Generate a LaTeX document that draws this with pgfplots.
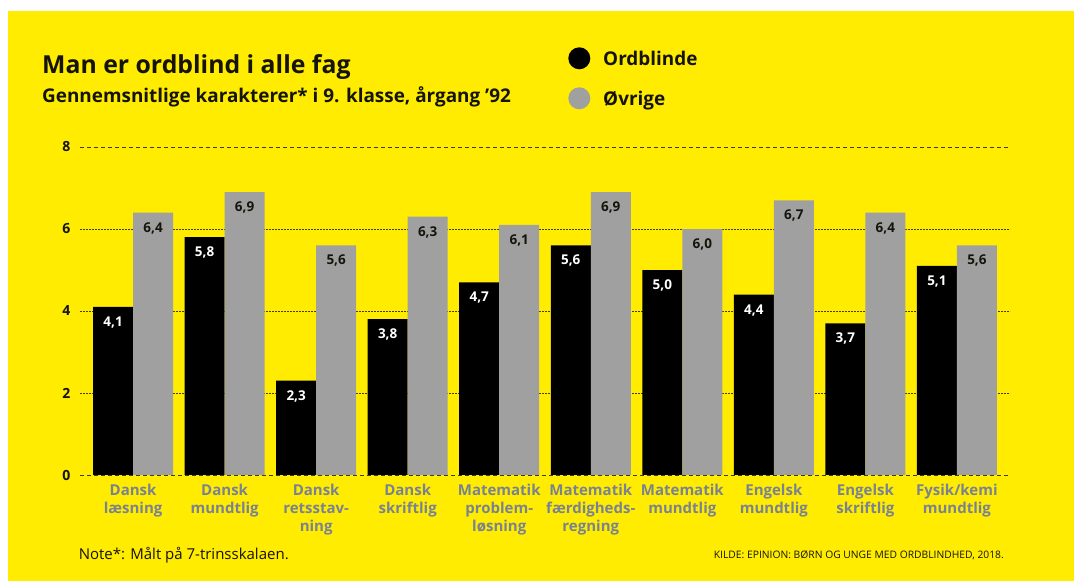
\documentclass[border=0pt]{standalone}
\usepackage{fontspec}
\setmainfont{Open Sans}
\usepackage{pgfplots}
\pgfplotsset{compat=1.18}
\definecolor{bg}{HTML}{FFEC00}
\definecolor{barg}{HTML}{A0A0A0}
\definecolor{lab}{RGB}{120,130,148}
\definecolor{gridc}{RGB}{60,60,30}
\definecolor{txt}{RGB}{20,20,10}

\pgfplotstableread{
x y
-0.2185 4.1
0.7815 5.8
1.7815 2.3
2.7815 3.8
3.7815 4.7
4.7815 5.6
5.7815 5.0
6.7815 4.4
7.7815 3.7
8.7815 5.1
}\ordblinde
\pgfplotstableread{
x y
0.2185 6.4
1.2185 6.9
2.2185 5.6
3.2185 6.3
4.2185 6.1
5.2185 6.9
6.2185 6.0
7.2185 6.7
8.2185 6.4
9.2185 5.6
}\ovrige

\begin{document}
\begin{tikzpicture}[x=1pt,y=1pt]
\fill[white] (0pt,0pt) rectangle (1074pt,581pt);
\fill[bg] (8pt,0pt) rectangle (1074pt,570pt);
\useasboundingbox (0pt,0pt) rectangle (1074pt,581pt);
\node[anchor=base west, inner sep=0, text=txt, font=\bfseries\fontsize{24.8}{28}\selectfont] at (42pt,507pt) {Man er ordblind i alle fag};
\node[anchor=base west, inner sep=0, text=txt, font=\bfseries\fontsize{18.9}{22}\selectfont] at (42pt,478pt) {Gennemsnitlige karakterer* i 9. klasse, årgang ’92};
\fill[black] (579.3pt,522.7pt) circle (11pt);
\fill[barg] (579.3pt,482.7pt) circle (11pt);
\node[anchor=base west, inner sep=0, text=txt, font=\bfseries\fontsize{18.9}{22}\selectfont] at (603pt,515pt) {Ordblinde};
\node[anchor=base west, inner sep=0, text=txt, font=\bfseries\fontsize{18.9}{22}\selectfont] at (603pt,475pt) {Øvrige};
\node[anchor=base west, inner sep=0, text=txt, font=\fontsize{15}{18}\selectfont] at (78.6pt,21pt) {Note*: Målt på 7-trinsskalaen.};
\node[anchor=base east, inner sep=0, text=txt, font=\fontsize{10.3}{12}\selectfont] at (1004pt,22pt) {KILDE: EPINION: BØRN OG UNGE MED ORDBLINDHED, 2018.};
\begin{axis}[
  at={(80pt,106pt)}, anchor=south west,
  scale only axis, width=930pt, height=328pt,
  xmin=-0.58, xmax=9.58, ymin=0, ymax=8,
  axis line style={draw=none},
  major tick length=0pt,
  ytick={2,4,6},
  extra y ticks={0,8},
  ymajorgrids,
  grid style={gridc, line width=0.7pt, dash pattern=on 2pt off 1pt},
  extra y tick style={grid style={gridc, line width=0.7pt, dash pattern=on 4pt off 3pt}},
  /pgf/number format/assume math mode=true,
  yticklabel style={font=\bfseries\fontsize{14}{16}\selectfont, text=txt, xshift=-6pt},
  xtick={0,...,9},
  xticklabels={{Dansk\\læsning},{Dansk\\mundtlig},{Dansk\\retsstav-\\ning},{Dansk\\skriftlig},{Matematik\\problem-\\løsning},{Matematik\\færdigheds-\\regning},{Matematik\\mundtlig},{Engelsk\\mundtlig},{Engelsk\\skriftlig},{Fysik/kemi\\mundtlig}},
  xticklabel style={align=center, text=lab, yshift=-6pt, font=\bfseries\fontsize{15}{17.8}\selectfont},
  ybar, bar width=0.437, bar shift=0pt,
  point meta=y,
  nodes near coords={\pgfmathprintnumber[fixed,fixed zerofill,precision=1,use comma,assume math mode=true]{\pgfplotspointmeta}},
  nodes near coords style={anchor=base, yshift=-19.5pt, font=\bfseries\fontsize{13.5}{16}\selectfont},
]
\addplot[fill=black, draw=none, every node near coord/.append style={text=white}] table[x=x,y=y] {\ordblinde};
\addplot[fill=barg, draw=none, every node near coord/.append style={text=txt}] table[x=x,y=y] {\ovrige};
\end{axis}
\end{tikzpicture}
\end{document}
